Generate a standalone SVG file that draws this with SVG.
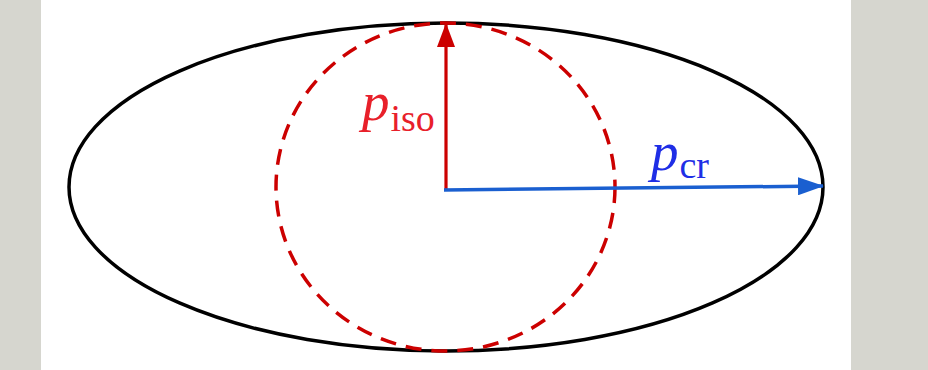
<svg xmlns="http://www.w3.org/2000/svg" width="928" height="370" viewBox="0 0 928 370">
<defs>
<style>
.lbl{font-family:"Liberation Serif","DejaVu Serif",serif}
.it{font-style:italic}
</style>
<marker id="ahR" markerUnits="userSpaceOnUse" markerWidth="24" markerHeight="18" refX="23" refY="9" orient="auto" viewBox="0 0 24 18"><path d="M0,0 L24,9 L0,18 Z" fill="#cc0000"/></marker>
<marker id="ahB" markerUnits="userSpaceOnUse" markerWidth="26" markerHeight="18" refX="25" refY="9" orient="auto" viewBox="0 0 26 18"><path d="M0,0 L26,9 L0,18 Z" fill="#1a5fd0"/></marker>
</defs>
<rect x="0" y="0" width="928" height="370" fill="#d6d6cf"/>
<rect x="41" y="0" width="810" height="370" fill="#ffffff"/>
<g id="ellipse"><ellipse cx="446" cy="187" rx="377" ry="164" fill="none" stroke="#000" stroke-width="3.5"/></g>
<g id="circle"><ellipse cx="445.5" cy="187" rx="169.5" ry="164" fill="none" stroke="#cc0000" stroke-width="3.5" stroke-dasharray="16,10"/></g>
<g id="connectors">
<line x1="446" y1="190" x2="446" y2="24" stroke="#cc0000" stroke-width="3.2" marker-end="url(#ahR)"/>
<line x1="444" y1="190" x2="823" y2="186" stroke="#1a5fd0" stroke-width="3.5" marker-end="url(#ahB)"/>
</g>
<g id="label-iso"><text class="lbl" x="362" y="120" fill="#e8202a"><tspan class="it" font-size="55">p</tspan><tspan font-size="38" dx="1" dy="11">iso</tspan></text></g>
<g id="label-cr"><text class="lbl" x="651" y="170" fill="#1f2ee6"><tspan class="it" font-size="55">p</tspan><tspan font-size="38" dx="1" dy="8">cr</tspan></text></g>
</svg>
